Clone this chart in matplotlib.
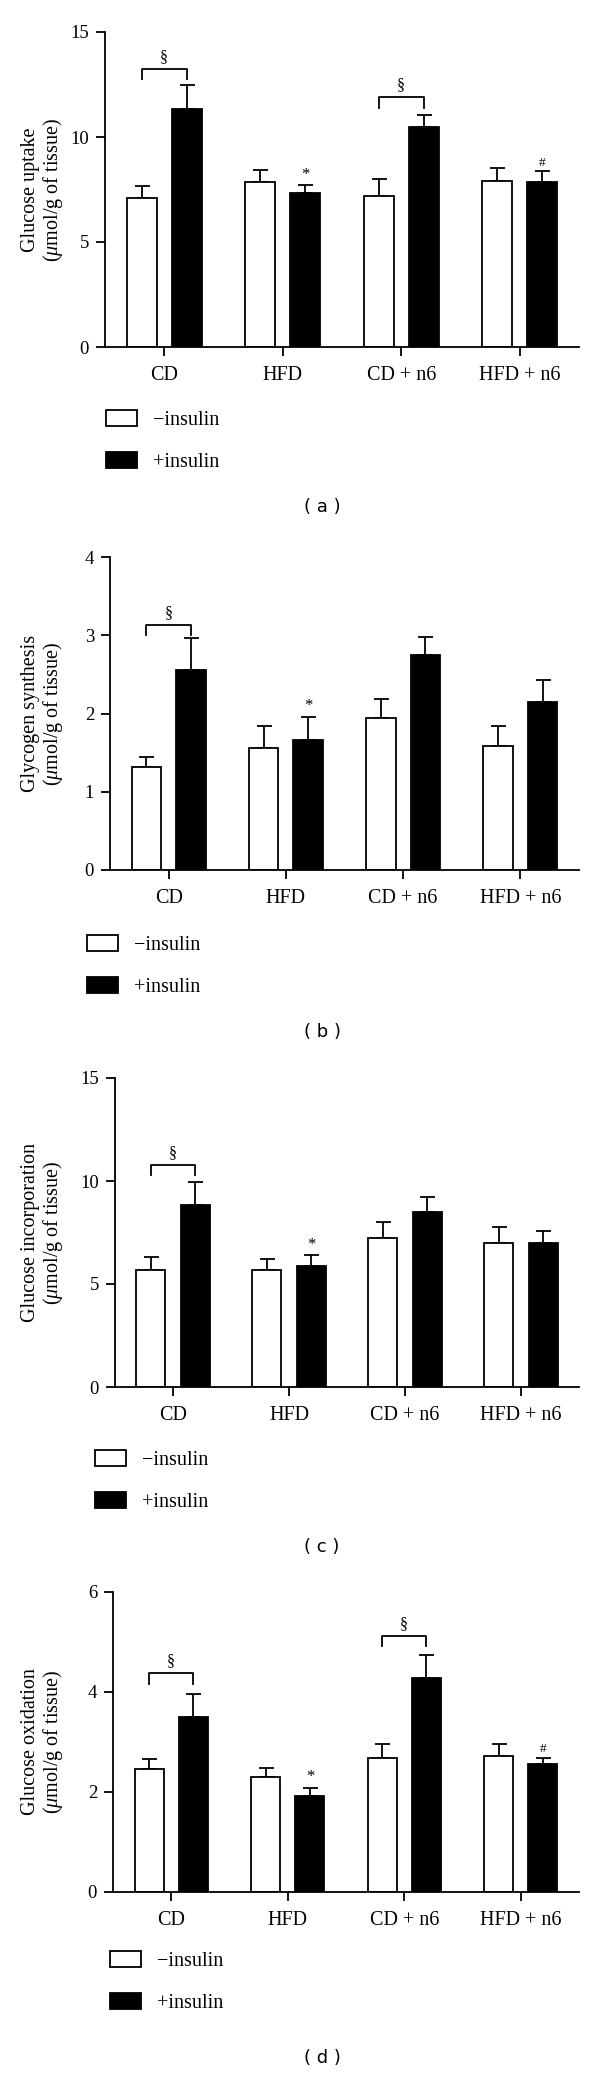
import matplotlib
matplotlib.use('Agg')
import matplotlib.pyplot as plt
import numpy as np

plt.rcParams['font.family'] = ['Liberation Serif', 'DejaVu Serif']
plt.rcParams['mathtext.fontset'] = 'custom'
plt.rcParams['mathtext.rm'] = 'Liberation Serif'
plt.rcParams['mathtext.it'] = 'Liberation Serif:italic'

groups = ['CD', 'HFD', 'CD + n6', 'HFD + n6']

# (a) glucose uptake
a_minus = [7.11, 7.87, 7.18, 7.90]
a_minus_err = [0.57, 0.54, 0.82, 0.61]
a_plus = [11.31, 7.32, 10.49, 7.84]
a_plus_err = [1.16, 0.38, 0.58, 0.52]

# (b) glycogen synthesis
b_minus = [1.32, 1.565, 1.94, 1.59]
b_minus_err = [0.12, 0.27, 0.24, 0.25]
b_plus = [2.56, 1.66, 2.75, 2.15]
b_plus_err = [0.40, 0.30, 0.23, 0.28]

# (c) glucose incorporation
c_minus = [5.66, 5.70, 7.22, 6.97]
c_minus_err = [0.67, 0.53, 0.79, 0.78]
c_plus = [8.85, 5.87, 8.51, 7.01]
c_plus_err = [1.09, 0.52, 0.73, 0.58]

# (d) glucose oxidation
d_minus = [2.46, 2.30, 2.69, 2.73]
d_minus_err = [0.21, 0.19, 0.27, 0.24]
d_plus = [3.51, 1.92, 4.28, 2.57]
d_plus_err = [0.46, 0.17, 0.47, 0.12]

# brackets: (group, top, bottom) , marks: (group, symbol)
a_brackets = [(0, 13.23, 12.75), (2, 11.9, 11.4)]
a_marks = [(1, '*'), (3, '#')]
b_brackets = [(0, 3.13, 3.0)]
b_marks = [(1, '*')]
c_brackets = [(0, 10.78, 10.29)]
c_marks = [(1, '*')]
d_brackets = [(0, 4.38, 4.17), (2, 5.12, 4.93)]
d_marks = [(1, '*'), (3, '#')]

ylabels = ['Glucose uptake', 'Glycogen synthesis', 'Glucose incorporation', 'Glucose oxidation']
yunit = '($\\mu$mol/g of tissue)'

W, H = 600, 2083
fig = plt.figure(figsize=(W/100, H/100), dpi=100)

def rect(l, r, t, b):
    return [l/W, 1-b/H, (r-l)/W, (b-t)/H]

panels = [
    (a_minus, a_minus_err, a_plus, a_plus_err, a_brackets, a_marks, 15, [0, 5, 10, 15], (105, 579, 32, 347), (106, 410), 507, '( a )'),
    (b_minus, b_minus_err, b_plus, b_plus_err, b_brackets, b_marks, 4, [0, 1, 2, 3, 4], (110, 579, 557, 870), (87, 935), 1032, '( b )'),
    (c_minus, c_minus_err, c_plus, c_plus_err, c_brackets, c_marks, 15, [0, 5, 10, 15], (115, 579, 1078, 1387), (95, 1450), 1547, '( c )'),
    (d_minus, d_minus_err, d_plus, d_plus_err, d_brackets, d_marks, 6, [0, 2, 4, 6], (113, 579, 1592, 1892), (110, 1951), 2058, '( d )'),
]

x = np.arange(len(groups))
off = 0.19
w = 0.25
fs = 14.5
lw = 1.3

for i, (mn, mne, pl, ple, brs, mks, ymax, yt, box, leg, lab_y, tag) in enumerate(panels):
    ax = fig.add_axes(rect(*box))
    ax.bar(x - off, mn, w, color='white', edgecolor='black', linewidth=lw, label='\u2212insulin', zorder=2)
    ax.bar(x + off, pl, w, color='black', edgecolor='black', linewidth=lw, label='+insulin', zorder=2)
    ax.errorbar(x - off, mn, yerr=[np.zeros(4), mne], fmt='none', ecolor='black', elinewidth=lw, capsize=5.4, capthick=lw, zorder=1)
    ax.errorbar(x + off, pl, yerr=[np.zeros(4), ple], fmt='none', ecolor='black', elinewidth=lw, capsize=5.4, capthick=lw, zorder=3)

    for g, top, bot in brs:
        ax.plot([g - off, g - off, g + off, g + off], [bot, top, top, bot], color='black', lw=lw)
        ax.annotate('\u00a7', (g, top), xytext=(0, 3), textcoords='offset points', ha='center', va='bottom', fontsize=11.5)
    for g, s in mks:
        ax.annotate(s, (g + off, pl[g] + ple[g]), xytext=(0, 2), textcoords='offset points', ha='center', va='bottom', fontsize=12 if s == '*' else 9.5)

    ax.set_xlim(-0.5, 3.5)
    ax.set_ylim(0, ymax)
    ax.set_yticks(yt)
    ax.set_xticks(x)
    ax.set_xticklabels(groups)
    ax.spines['top'].set_visible(False)
    ax.spines['right'].set_visible(False)
    ax.spines['left'].set_linewidth(lw)
    ax.spines['bottom'].set_linewidth(lw)
    ax.tick_params(axis='both', length=6.5, width=lw, direction='out')
    ax.tick_params(axis='x', pad=7, labelsize=fs)
    ax.tick_params(axis='y', pad=5, labelsize=13.5)

    l, r, t, b = box
    fig.text(43/W, 1 - (t + b)/2/H, ylabels[i] + '\n' + yunit, rotation=90, ha='center', va='center',
             multialignment='center', fontsize=fs, linespacing=1.1)

    fig.legend(*ax.get_legend_handles_labels(), loc='upper left', bbox_to_anchor=(leg[0]/W, 1 - leg[1]/H),
               frameon=False, fontsize=fs, borderpad=0, borderaxespad=0, handlelength=1.55,
               handleheight=0.85, handletextpad=0.8, labelspacing=1.1)

    fig.text(322/W, 1 - lab_y/H, tag, ha='center', va='center', fontsize=13, family='DejaVu Sans')

fig.savefig('out.png', dpi=100)
